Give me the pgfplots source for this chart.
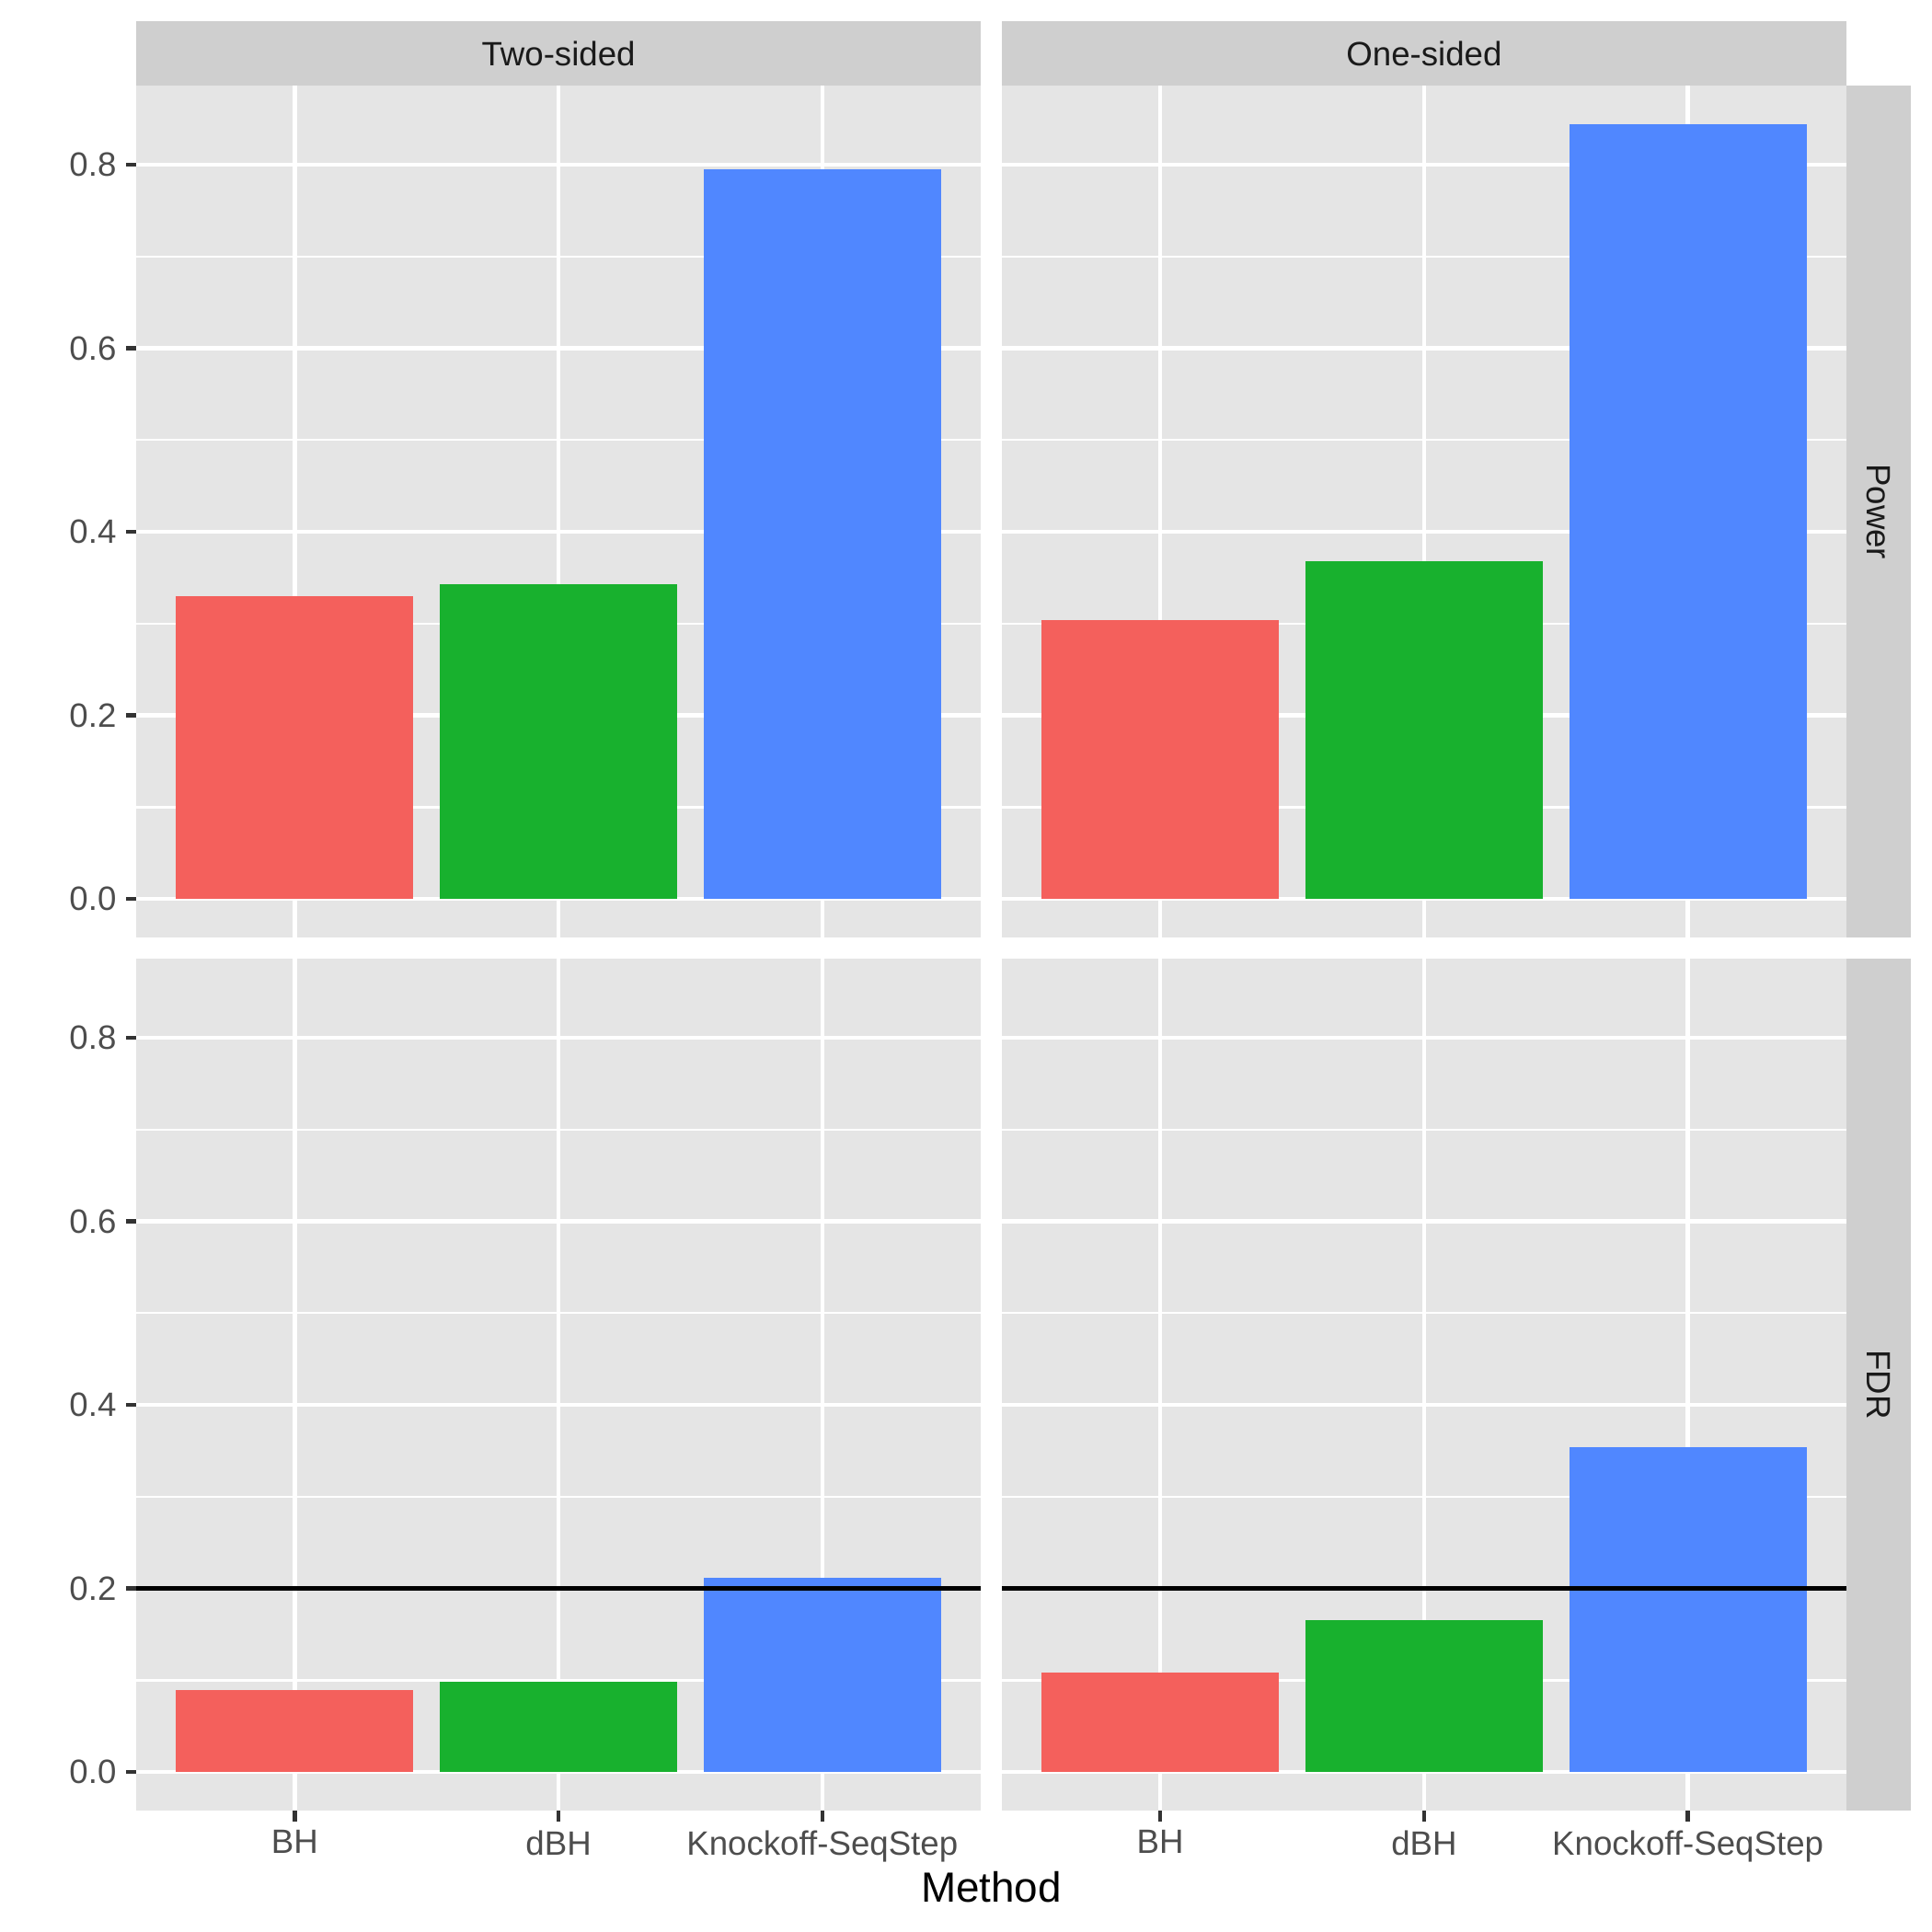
\documentclass[border=0pt]{standalone}
\usepackage{pgfplots}
\pgfplotsset{compat=1.18}
\usepackage{fontspec}
\setmainfont{Liberation Sans}
\definecolor{panelbg}{HTML}{E5E5E5}
\definecolor{stripbg}{HTML}{CFCFCF}
\definecolor{striptxt}{HTML}{1A1A1A}
\definecolor{ticktxt}{HTML}{4D4D4D}
\definecolor{tickcol}{HTML}{333333}
\definecolor{cBH}{HTML}{F4605C}
\definecolor{cdBH}{HTML}{18B12E}
\definecolor{cKS}{HTML}{5087FF}
\newcommand{\ticksize}{\fontsize{8.8}{10}\selectfont}
\pgfplotsset{
  panel/.style={
    scale only axis, width=220.2pt, height=222.3pt,
    xmin=0.4, xmax=3.6, ymin=-0.0422, ymax=0.8861,
    axis background/.style={fill=panelbg},
    axis line style={draw=none},
    xtick={1,2,3}, ytick={0,0.2,0.4,0.6,0.8},
    minor ytick={0.1,0.3,0.5,0.7},
    xmajorgrids, ymajorgrids, yminorgrids,
    major grid style={white, line width=1.07pt},
    minor grid style={white, line width=0.53pt},
    tick pos=left,
    tick align=outside, major tick length=2.75pt, minor tick length=0pt,
    tick style={color=tickcol, line width=1.07pt},
    xticklabels={BH,dBH,Knockoff-SeqStep},
    yticklabels={0.0,0.2,0.4,0.6,0.8},
    ticklabel style={font=\ticksize, text=ticktxt},
    yticklabel style={anchor=east, inner sep=0pt, xshift=-2.3pt},
    xticklabel style={anchor=north, inner sep=0pt, yshift=-2.2pt},
    clip=false,
  },
  noy/.style={ytick style={draw=none}, yticklabels={}},
  nox/.style={xtick style={draw=none}, xticklabels={}},
  bar/.style={ybar, bar width=0.9, bar shift=0pt, draw=none, fill=#1},
}
\begin{document}
\begin{tikzpicture}
\useasboundingbox (0pt,0pt) rectangle (504pt,504pt);
% top-left: Two-sided, Power
\begin{axis}[panel, nox, at={(35.6pt,259.37pt)}, anchor=south west]
\addplot[bar=cBH] coordinates {(1,0.330)};
\addplot[bar=cdBH] coordinates {(2,0.343)};
\addplot[bar=cKS] coordinates {(3,0.795)};
\end{axis}
% top-right: One-sided, Power
\begin{axis}[panel, nox, noy, at={(261.4pt,259.37pt)}, anchor=south west]
\addplot[bar=cBH] coordinates {(1,0.304)};
\addplot[bar=cdBH] coordinates {(2,0.368)};
\addplot[bar=cKS] coordinates {(3,0.844)};
\end{axis}
% bottom-left: Two-sided, FDR
\begin{axis}[panel, at={(35.6pt,31.61pt)}, anchor=south west]
\addplot[bar=cBH] coordinates {(1,0.089)};
\addplot[bar=cdBH] coordinates {(2,0.098)};
\addplot[bar=cKS] coordinates {(3,0.212)};
\addplot[black, line width=1.07pt] coordinates {(0.4,0.2) (3.6,0.2)};
\end{axis}
% bottom-right: One-sided, FDR
\begin{axis}[panel, noy, at={(261.4pt,31.61pt)}, anchor=south west]
\addplot[bar=cBH] coordinates {(1,0.108)};
\addplot[bar=cdBH] coordinates {(2,0.166)};
\addplot[bar=cKS] coordinates {(3,0.354)};
\addplot[black, line width=1.07pt] coordinates {(0.4,0.2) (3.6,0.2)};
\end{axis}
% strips
\fill[stripbg] (35.6pt,481.68pt) rectangle (255.8pt,498.48pt);
\fill[stripbg] (261.4pt,481.68pt) rectangle (481.6pt,498.48pt);
\fill[stripbg] (481.6pt,259.37pt) rectangle (498.5pt,481.67pt);
\fill[stripbg] (481.6pt,31.61pt) rectangle (498.5pt,253.91pt);
\node[font=\ticksize, text=striptxt, inner sep=0pt] at (145.7pt,490.08pt) {Two-sided};
\node[font=\ticksize, text=striptxt, inner sep=0pt] at (371.5pt,490.08pt) {One-sided};
\node[font=\ticksize, text=striptxt, inner sep=0pt, rotate=-90] at (490.05pt,370.52pt) {Power};
\node[font=\ticksize, text=striptxt, inner sep=0pt, rotate=-90] at (490.05pt,142.76pt) {FDR};
\node[font=\fontsize{11}{13}\selectfont, text=black, inner sep=0pt, anchor=base] at (258.6pt,7.7pt) {Method};
\end{tikzpicture}
\end{document}
